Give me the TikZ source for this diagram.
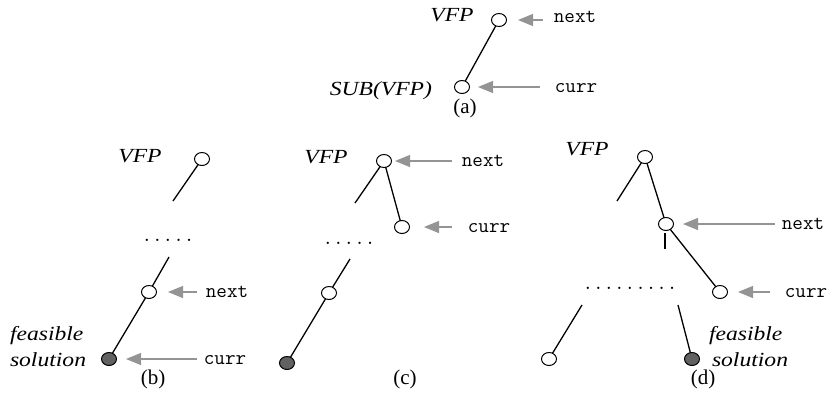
\documentclass[tikz,border=0pt]{standalone}
\usepackage{fontspec}
\setmainfont{Liberation Serif}
\usetikzlibrary{arrows.meta,shapes.geometric}
\begin{document}
\begin{tikzpicture}[x=1pt,y=-1pt,
  every node/.style={inner sep=0pt,outer sep=0pt},
  vert/.style={ellipse,draw,line width=1pt,minimum width=15pt,minimum height=13pt,fill=white},
  goal/.style={vert,fill=black!62},
  edge/.style={line width=1.3pt},
  ptr/.style={draw=black!42,line width=1.2pt,-{Triangle[length=15pt,width=12pt,fill=black!42]}},
  lbl/.style={font=\fontsize{20}{24}\selectfont\itshape\addfontfeatures{FakeStretch=1.18},anchor=base},
  var/.style={font=\fontsize{20.5}{24}\selectfont\ttfamily\addfontfeatures{FakeStretch=1.12},anchor=base},
  subcap/.style={font=\fontsize{21}{24}\selectfont,anchor=base},
  dots/.style={var}]
\useasboundingbox (0,0) rectangle (834,405);

% ---- (a) ----
\node[vert] (a1) at (499,20) {};
\node[vert] (a2) at (462,87) {};
\draw[edge] (a1) -- (a2);
\node[lbl] (a1t) at (452,21) {VFP};
\node[lbl,anchor=base east] (a2t) at (432,95) {SUB(VFP)};
\node[var] (an) at (575,22) {next};
\node[var] (ac) at (576,92) {curr};
\draw[ptr] ([xshift=36.5pt]a1.east) -- ([xshift=11.5pt]a1.east);
\draw[ptr] ([xshift=70.5pt]a2.east) -- ([xshift=8.5pt]a2.east);
\node[subcap] (acap) at (465,113) {(a)};

% ---- (b) ----
\node[vert] (b1) at (202,159) {};
\node[vert] (b2) at (149,292) {};
\node[goal] (b3) at (109,359) {};
\coordinate (b1e) at (173,201);
\coordinate (b2s) at (169,257);
\draw[edge] (b1) -- (b1e);
\draw[edge] (b2s) -- (b2);
\draw[edge] (b2) -- (b3);
\node[dots] (bd) at (168,241) {.....};
\node[lbl] (b1t) at (140,162) {VFP};
\node[lbl,anchor=base west] (bf1) at (10,340) {feasible};
\node[lbl,anchor=base west] (bf2) at (10,366) {solution};
\node[var] (bn) at (227,297) {next};
\node[var] (bc) at (225,364) {curr};
\draw[ptr] ([xshift=40.5pt]b2.east) -- ([xshift=11.5pt]b2.east);
\draw[ptr] ([xshift=80.5pt]b3.east) -- ([xshift=9.5pt]b3.east);
\node[subcap] (bcap) at (153,384) {(b)};

% ---- (c) ----
\node[vert] (c1) at (384,161) {};
\node[vert] (c2) at (402,227) {};
\node[vert] (c3) at (329,293) {};
\node[goal] (c4) at (287,363) {};
\coordinate (c1e) at (355,203);
\coordinate (c3s) at (350,259);
\draw[edge] (c1) -- (c1e);
\draw[edge] (c1) -- (c2);
\draw[edge] (c3s) -- (c3);
\draw[edge] (c3) -- (c4);
\node[dots] (cd) at (349,244) {.....};
\node[lbl] (c1t) at (326,163) {VFP};
\node[var] (cn) at (483,166) {next};
\node[var] (cc) at (489,232) {curr};
\draw[ptr] ([xshift=60.5pt]c1.east) -- ([xshift=3.5pt]c1.east);
\draw[ptr] ([xshift=42.5pt]c2.east) -- ([xshift=14.5pt]c2.east);
\node[subcap] (ccap) at (405,384) {(c)};

% ---- (d) ----
\node[vert] (d1) at (645,157) {};
\node[vert] (d2) at (666,224) {};
\node[vert] (d3) at (720,292) {};
\node[vert] (d4) at (549,359) {};
\node[goal] (d5) at (692,359) {};
\coordinate (d1e) at (617,201);
\coordinate (dt1) at (665,233);
\coordinate (dt2) at (665,249);
\coordinate (d4s) at (582,305);
\coordinate (d5s) at (678,305);
\draw[edge] (d1) -- (d1e);
\draw[edge] (d1) -- (d2);
\draw[edge] (dt1) -- (dt2);
\draw[edge] (d2) -- (d3);
\draw[edge] (d4s) -- (d4);
\draw[edge] (d5s) -- (d5);
\node[dots] (dd) at (630,289) {.........};
\node[lbl] (d1t) at (587,155) {VFP};
\node[lbl,anchor=base west] (df1) at (709,340) {feasible};
\node[lbl,anchor=base west] (df2) at (712,366) {solution};
\node[var] (dn) at (803,229) {next};
\node[var] (dc) at (806,297) {curr};
\draw[ptr] ([xshift=101.5pt]d2.east) -- ([xshift=9.5pt]d2.east);
\draw[ptr] ([xshift=42.5pt]d3.east) -- ([xshift=10.5pt]d3.east);
\node[subcap] (dcap) at (703,384) {(d)};
\end{tikzpicture}
\end{document}
